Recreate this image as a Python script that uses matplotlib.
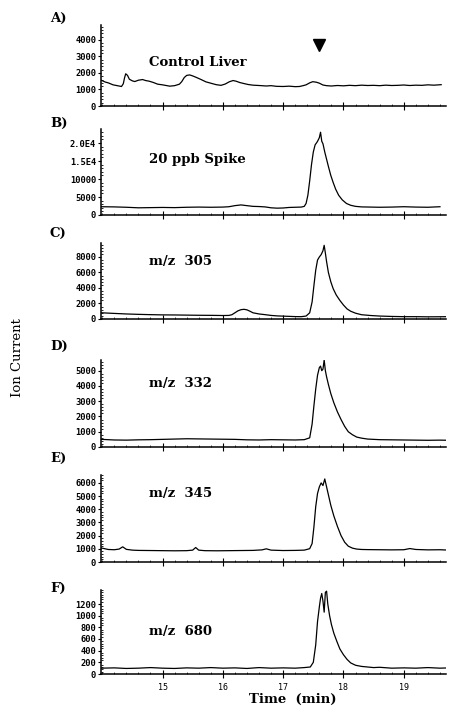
import matplotlib
matplotlib.use("Agg")
import matplotlib.pyplot as plt
from matplotlib.ticker import AutoMinorLocator, MultipleLocator

# --- data (time in min, ion current) ---
tA = [13.99, 14.05, 14.10, 14.18, 14.25, 14.32, 14.35, 14.37, 14.39, 14.42, 14.45, 14.50, 14.54,
      14.60, 14.67, 14.72, 14.78, 14.85, 14.92, 15.00, 15.12, 15.20, 15.28, 15.32, 15.36, 15.40,
      15.45, 15.50, 15.56, 15.64, 15.72, 15.80, 15.89, 15.97, 16.04, 16.11, 16.17, 16.22, 16.28,
      16.36, 16.42, 16.50, 16.60, 16.72, 16.80, 16.89, 17.00, 17.10, 17.20, 17.27, 17.33, 17.38,
      17.44, 17.49, 17.55, 17.60, 17.66, 17.72, 17.80, 17.90, 18.00, 18.10, 18.20, 18.30, 18.40,
      18.50, 18.60, 18.70, 18.80, 18.90, 19.00, 19.10, 19.20, 19.30, 19.40, 19.50, 19.62]
vA = [1550, 1450, 1400, 1280, 1230, 1180, 1350, 1700, 1950, 1850, 1620, 1520, 1480,
      1560, 1600, 1540, 1500, 1420, 1320, 1280, 1200, 1230, 1320, 1480, 1720, 1850,
      1880, 1820, 1730, 1600, 1460, 1380, 1290, 1250, 1330, 1470, 1540, 1500, 1420,
      1350, 1300, 1260, 1240, 1210, 1230, 1190, 1180, 1200, 1170, 1180, 1230, 1280,
      1400, 1470, 1440, 1380, 1270, 1230, 1210, 1240, 1220, 1250, 1230, 1260, 1240,
      1250, 1230, 1260, 1240, 1250, 1270, 1240, 1260, 1250, 1280, 1260, 1290]

tB = [13.99, 14.2, 14.4, 14.6, 14.8, 15.0, 15.2, 15.4, 15.6, 15.8, 16.0, 16.1, 16.2, 16.3, 16.4,
      16.5, 16.6, 16.7, 16.8, 16.9, 17.0, 17.1, 17.2, 17.3, 17.35, 17.38, 17.41, 17.44, 17.47,
      17.50, 17.53, 17.56, 17.58, 17.60, 17.62, 17.64, 17.66, 17.69, 17.72, 17.75, 17.79, 17.83,
      17.87, 17.92, 17.98, 18.05, 18.12, 18.20, 18.30, 18.45, 18.6, 18.8, 19.0, 19.2, 19.4, 19.6]
vB = [2300, 2250, 2150, 2000, 2050, 2100, 2050, 2150, 2200, 2150, 2200, 2300, 2600, 2800, 2600,
      2400, 2350, 2250, 2000, 1900, 1950, 2100, 2150, 2200, 2400, 3200, 5500, 9500, 14000,
      17500, 19500, 20200, 20800, 21500, 23000, 20500, 19800, 17500, 15500, 13500, 11000, 9000,
      7200, 5500, 4200, 3200, 2700, 2400, 2250, 2200, 2150, 2200, 2300, 2200, 2150, 2300]

tC = [13.99, 14.2, 14.4, 14.6, 14.8, 15.0, 15.2, 15.4, 15.6, 15.8, 16.0, 16.1, 16.15, 16.2, 16.25,
      16.3, 16.35, 16.4, 16.45, 16.5, 16.6, 16.7, 16.8, 16.9, 17.0, 17.1, 17.2, 17.3, 17.38, 17.44,
      17.48, 17.51, 17.54, 17.57, 17.60, 17.63, 17.66, 17.68, 17.70, 17.72, 17.75, 17.79, 17.83,
      17.88, 17.94, 18.00, 18.06, 18.12, 18.2, 18.3, 18.45, 18.6, 18.8, 19.0, 19.2, 19.4, 19.6, 19.75]
vC = [800, 720, 650, 600, 560, 530, 520, 500, 480, 470, 450, 460, 550, 800, 1050,
      1200, 1250, 1180, 1000, 800, 650, 560, 460, 400, 370, 340, 310, 300, 380, 800,
      2200, 4300, 6300, 7600, 8000, 8300, 8800, 9500, 8500, 7400, 6000, 4800, 3900,
      3100, 2400, 1800, 1300, 1000, 750, 550, 450, 380, 330, 300, 300, 280, 290, 300]

tD = [13.99, 14.2, 14.4, 14.6, 14.8, 15.0, 15.2, 15.4, 15.6, 15.8, 16.0, 16.2, 16.4, 16.6, 16.8,
      17.0, 17.2, 17.35, 17.44, 17.48, 17.51, 17.54, 17.57, 17.60, 17.62, 17.64, 17.66, 17.68,
      17.70, 17.72, 17.75, 17.79, 17.84, 17.90, 17.96, 18.02, 18.08, 18.15, 18.22, 18.30, 18.4,
      18.6, 18.8, 19.0, 19.2, 19.4, 19.6, 19.75]
vD = [500, 460, 450, 470, 480, 500, 520, 540, 530, 520, 510, 500, 470, 460, 480,
      470, 460, 480, 600, 1500, 2700, 3800, 4700, 5200, 5300, 5000, 5100, 5700,
      5000, 4600, 4100, 3500, 2900, 2300, 1800, 1350, 1000, 800, 650, 580, 520,
      480, 470, 460, 450, 440, 450, 440]

tE = [13.99, 14.1, 14.2, 14.28, 14.34, 14.40, 14.5, 14.6, 14.8, 15.0, 15.2, 15.4, 15.50, 15.55,
      15.60, 15.7, 15.9, 16.1, 16.3, 16.5, 16.65, 16.72, 16.80, 17.0, 17.2, 17.35, 17.44, 17.48,
      17.51, 17.54, 17.57, 17.60, 17.63, 17.66, 17.69, 17.72, 17.75, 17.79, 17.84, 17.90, 17.96,
      18.02, 18.08, 18.15, 18.22, 18.3, 18.4, 18.6, 18.8, 19.0, 19.10, 19.2, 19.4, 19.6, 19.75]
vE = [1060, 950, 930, 980, 1150, 960, 900, 880, 870, 860, 850, 860, 900, 1100,
      900, 860, 850, 860, 870, 880, 920, 1000, 900, 870, 880, 900, 1010, 1400,
      2650, 4200, 5200, 5700, 6000, 5800, 6300, 5700, 5100, 4300, 3500, 2700, 2000,
      1500, 1200, 1050, 980, 950, 940, 930, 920, 930, 1020, 950, 920, 930, 900]

tF = [13.99, 14.2, 14.4, 14.6, 14.8, 15.0, 15.2, 15.4, 15.6, 15.8, 16.0, 16.2, 16.4, 16.6, 16.8,
      17.0, 17.2, 17.35, 17.45, 17.50, 17.54, 17.57, 17.60, 17.62, 17.64, 17.66, 17.68, 17.70,
      17.72, 17.74, 17.77, 17.80, 17.84, 17.89, 17.94, 18.00, 18.06, 18.12, 18.2, 18.3, 18.4,
      18.5, 18.6, 18.8, 19.0, 19.2, 19.4, 19.6, 19.75]
vF = [100, 105, 95, 100, 110, 100, 95, 105, 100, 110, 100, 105, 95, 110, 100,
      105, 100, 110, 120, 200, 500, 900, 1150, 1300, 1380, 1250, 1060, 1400,
      1420, 1200, 1000, 850, 700, 560, 430, 330, 250, 190, 150, 130, 120,
      110, 115, 100, 105, 100, 110, 100, 105]

times = [tA, tB, tC, tD, tE, tF]
values = [vA, vB, vC, vD, vE, vF]
panel_letters = ["A)", "B)", "C)", "D)", "E)", "F)"]
panel_names = ["Control Liver", "20 ppb Spike", "m/z  305", "m/z  332", "m/z  345", "m/z  680"]

yticks = [[0, 1000, 2000, 3000, 4000],
          [0, 5000, 10000, 15000, 20000],
          [0, 2000, 4000, 6000, 8000],
          [0, 1000, 2000, 3000, 4000, 5000],
          [0, 1000, 2000, 3000, 4000, 5000, 6000],
          [0, 200, 400, 600, 800, 1000, 1200]]
ytick_labels = [["0", "1000", "2000", "3000", "4000"],
                ["0", "5000", "10000", "1.5E4", "2.0E4"],
                ["0", "2000", "4000", "6000", "8000"],
                ["0", "1000", "2000", "3000", "4000", "5000"],
                ["0", "1000", "2000", "3000", "4000", "5000", "6000"],
                ["0", "200", "400", "600", "800", "1000", "1200"]]
ytops = [4900, 23900, 9800, 5700, 6600, 1440]
xticks = [15, 16, 17, 18, 19]

# marker for the analyte retention time in the control
marker_t = 17.60
marker_v = 3700

# --- layout (pixel rows measured on the 449x708 picture) ---
W, H = 449, 708
tops = [25, 129, 243, 360, 475, 590]
zeros = [106, 215, 319, 447, 562, 674]
letter_y = [18, 123, 233, 346, 458, 588]
name_y = [63, 160, 262, 383, 493, 632]
left_px, right_px = 101, 446

fig = plt.figure(figsize=(W / 100, H / 100), dpi=100)
serif = ["DejaVu Serif"]

for i in range(6):
    ax = fig.add_axes([left_px / W, 1 - zeros[i] / H,
                       (right_px - left_px) / W, (zeros[i] - tops[i]) / H])
    ax.plot(times[i], values[i], color="black", lw=0.9)
    ax.set_xlim(13.98, 19.7)
    ax.set_ylim(0, ytops[i])
    for s in ["top", "right"]:
        ax.spines[s].set_visible(False)
    ax.spines["left"].set_linewidth(1.1)
    ax.spines["bottom"].set_linewidth(1.1)

    ax.set_yticks(yticks[i])
    ax.set_yticklabels(ytick_labels[i], family="DejaVu Sans Mono", fontsize=6.3, weight="bold")
    ax.yaxis.set_minor_locator(AutoMinorLocator(5))
    ax.tick_params(axis="y", which="major", direction="out", length=2.5, width=0.8, pad=1)
    ax.tick_params(axis="y", which="minor", direction="in", length=1.5, width=0.6)

    ax.set_xticks(xticks)
    ax.xaxis.set_minor_locator(MultipleLocator(0.2))
    ax.tick_params(axis="x", which="major", direction="inout", length=6, width=0.8)
    ax.tick_params(axis="x", which="minor", direction="in", length=1.5, width=0.5)
    if i < 5:
        ax.set_xticklabels([])
    else:
        ax.set_xticklabels([str(t) for t in xticks], family="DejaVu Sans Mono", fontsize=6)

    fig.text(50 / W, 1 - letter_y[i] / H, panel_letters[i], family=serif,
             weight="bold", fontsize=9.5, va="center", ha="left")
    fig.text(149 / W, 1 - name_y[i] / H, panel_names[i], family=serif,
             weight="bold", fontsize=9.5, va="center", ha="left")

    if i == 0:
        ax.plot([marker_t], [marker_v], marker="v", color="black", markersize=8, ls="none")

fig.text(18 / W, 1 - 358 / H, "Ion Current", family=serif, fontsize=9.5,
         rotation=90, va="center", ha="center")
fig.text(293 / W, 1 - 699 / H, "Time  (min)", family=serif, weight="bold",
         fontsize=9.5, va="center", ha="center")

fig.savefig("out.png", dpi=100, facecolor="white")
